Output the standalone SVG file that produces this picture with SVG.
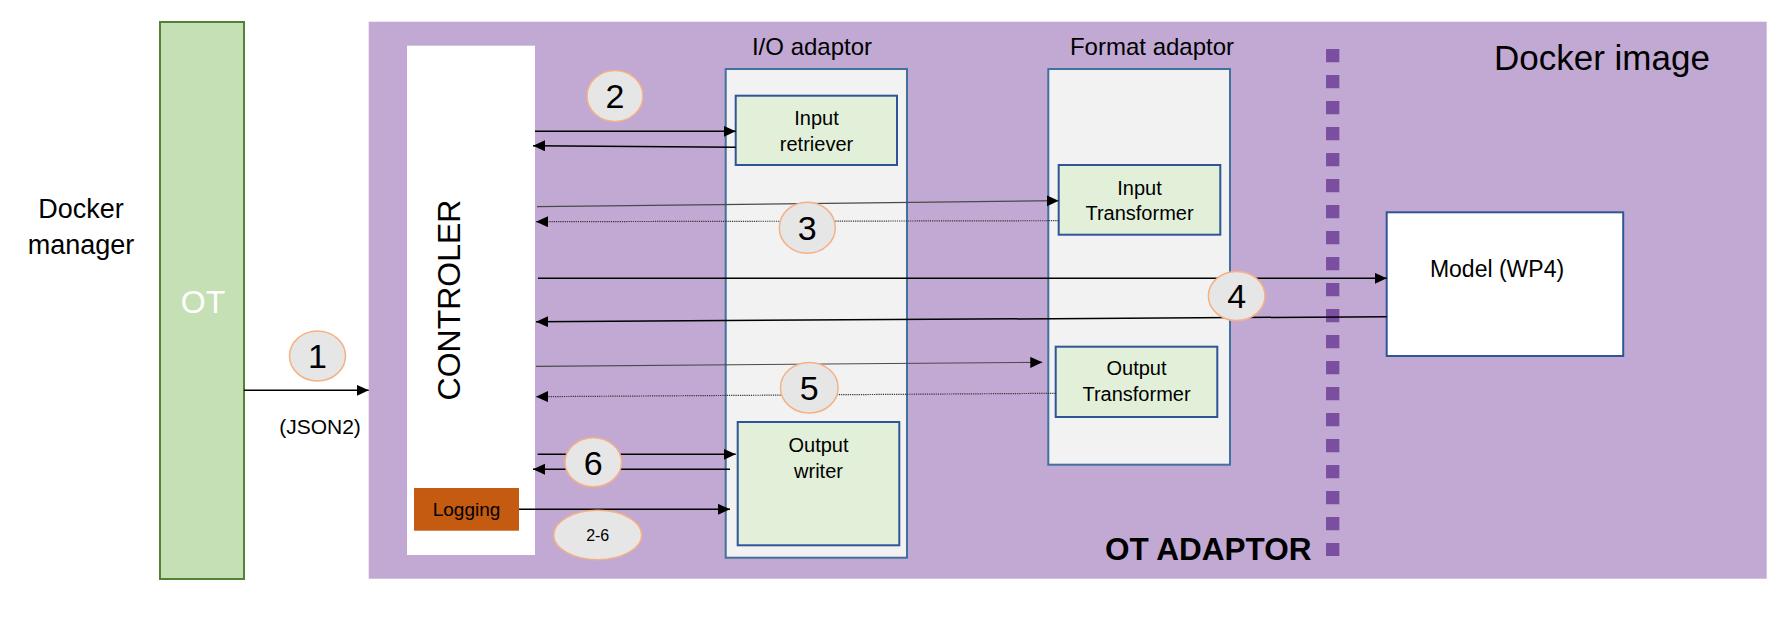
<svg xmlns="http://www.w3.org/2000/svg" width="1787" height="622" viewBox="0 0 1787 622">
<defs>
<style>
text{font-family:"Liberation Sans",Arial,sans-serif;fill:#000}
.mid{text-anchor:middle}
.adbox{fill:#F2F2F2;stroke:#41719C;stroke-width:2}
.gbox{fill:#E2F0D9;stroke:#2F5597;stroke-width:2}
.num{fill:#E7E6E6;stroke:#F4B183;stroke-width:1.5}
.numt{font-size:34px;text-anchor:middle}
.lbl{font-size:20px;text-anchor:middle}
.ar{stroke:#000;stroke-width:1.5;fill:none;marker-end:url(#ah)}
.arg{stroke:#4a4a4a;stroke-width:1.2;fill:none;marker-end:url(#ah)}
.ard{stroke:#333;stroke-width:1.2;stroke-dasharray:1.2 1;fill:none;marker-end:url(#ah)}
</style>
<marker id="ah" markerUnits="userSpaceOnUse" markerWidth="13" markerHeight="12" refX="12" refY="5.5" orient="auto">
<path d="M0,0 L12,5.5 L0,11 z" fill="#000"/>
</marker>
</defs>
<rect width="1787" height="622" fill="#fff"/>

<g id="docker-manager">
<text x="81" y="218" class="mid" font-size="27">Docker</text>
<text x="81" y="254" class="mid" font-size="27">manager</text>
</g>

<g id="ot">
<rect x="160" y="22" width="84" height="557" fill="#C5E0B4" stroke="#538135" stroke-width="2"/>
<text x="203" y="313" class="mid" font-size="32" style="fill:#fff">OT</text>
</g>

<g id="docker-image">
<rect x="368.7" y="21.7" width="1398" height="557" fill="#C2A9D4"/>
<text x="1494" y="70" font-size="35">Docker image</text>
<text x="1105" y="560" font-size="31.5" font-weight="bold">OT ADAPTOR</text>
</g>

<g id="controler">
<rect x="407" y="45.7" width="128" height="509.3" fill="#fff"/>
<text transform="translate(460,300) rotate(-90)" class="mid" font-size="32">CONTROLER</text>
</g>

<g id="logging">
<rect x="414" y="488" width="105" height="42.7" fill="#C55A11"/>
<text x="466.5" y="516" class="mid" font-size="19">Logging</text>
</g>

<g id="io-adaptor">
<text x="812" y="55" class="mid" font-size="24">I/O adaptor</text>
<rect class="adbox" x="725.7" y="69" width="181.3" height="488.7"/>
</g>

<g id="input-retriever">
<rect class="gbox" x="735.7" y="95.7" width="161.3" height="69.3"/>
<text x="816.5" y="125" class="lbl">Input</text>
<text x="816.5" y="151" class="lbl">retriever</text>
</g>

<g id="output-writer">
<rect class="gbox" x="737.7" y="422" width="161.6" height="123.3"/>
<text x="818.5" y="452" class="lbl">Output</text>
<text x="818.5" y="477.5" class="lbl">writer</text>
</g>

<g id="format-adaptor">
<text x="1152" y="55" class="mid" font-size="24">Format adaptor</text>
<rect class="adbox" x="1048.3" y="69" width="181.7" height="395.7"/>
</g>

<g id="input-transformer">
<rect class="gbox" x="1058.7" y="165" width="161.6" height="69.7"/>
<text x="1139.5" y="194.5" class="lbl">Input</text>
<text x="1139.5" y="220" class="lbl">Transformer</text>
</g>

<g id="output-transformer">
<rect class="gbox" x="1055.7" y="346.7" width="161.6" height="70.3"/>
<text x="1136.5" y="375" class="lbl">Output</text>
<text x="1136.5" y="401" class="lbl">Transformer</text>
</g>

<g id="model">
<rect x="1386.7" y="212.3" width="236.5" height="143.7" fill="#fff" stroke="#2F5597" stroke-width="2"/>
<text x="1497" y="277" class="mid" font-size="23">Model (WP4)</text>
</g>

<g id="boundary">
<line x1="1332.7" y1="49" x2="1332.7" y2="556" stroke="#7A4FA0" stroke-width="13.3" stroke-dasharray="13.3 12.7"/>
</g>

<g id="connectors">
<path class="ar" d="M244,390.3 L368.7,390.3"/>
<path class="ar" d="M535,131.3 L735.7,131.3"/>
<path class="ar" d="M735.7,147.3 L533,145.7"/>
<path class="arg" d="M537,206.7 L1058.7,200.7"/>
<path class="ard" d="M1058.7,220.7 L536,221.7"/>
<path class="ar" d="M538,278.3 L1386.7,278.3"/>
<path class="ar" d="M1386.7,316.7 L536,321.7"/>
<path class="arg" d="M536,366.3 L1042.3,362.3"/>
<path class="ard" d="M1055.7,393.3 L536,396.7"/>
<path class="ar" d="M537.7,454.3 L735.7,454.3"/>
<path class="ar" d="M730,469.3 L533,469.3"/>
<path class="ar" d="M519,509.3 L730,509.3"/>
</g>

<g id="label-1"><ellipse class="num" cx="317.5" cy="356" rx="28" ry="25"/><text class="numt" x="317.5" y="368">1</text></g>
<g id="label-json2"><text x="320" y="434" class="mid" font-size="21">(JSON2)</text></g>
<g id="label-2"><ellipse class="num" cx="615" cy="96" rx="28" ry="25.5"/><text class="numt" x="615" y="108">2</text></g>
<g id="label-3"><ellipse class="num" cx="807.3" cy="227.7" rx="28" ry="25.5"/><text class="numt" x="807.3" y="240">3</text></g>
<g id="label-4"><ellipse class="num" cx="1236.7" cy="296" rx="28.3" ry="24.5"/><text class="numt" x="1236.7" y="308">4</text></g>
<g id="label-5"><ellipse class="num" cx="809.3" cy="387.7" rx="28.8" ry="25.3"/><text class="numt" x="809.3" y="400">5</text></g>
<g id="label-6"><ellipse class="num" cx="593.3" cy="462.3" rx="28.3" ry="24.5"/><text class="numt" x="593.3" y="474.5">6</text></g>
<g id="label-2-6"><ellipse class="num" cx="597.7" cy="535" rx="44" ry="24.7"/><text x="597.7" y="541" class="mid" font-size="16">2-6</text></g>
</svg>
